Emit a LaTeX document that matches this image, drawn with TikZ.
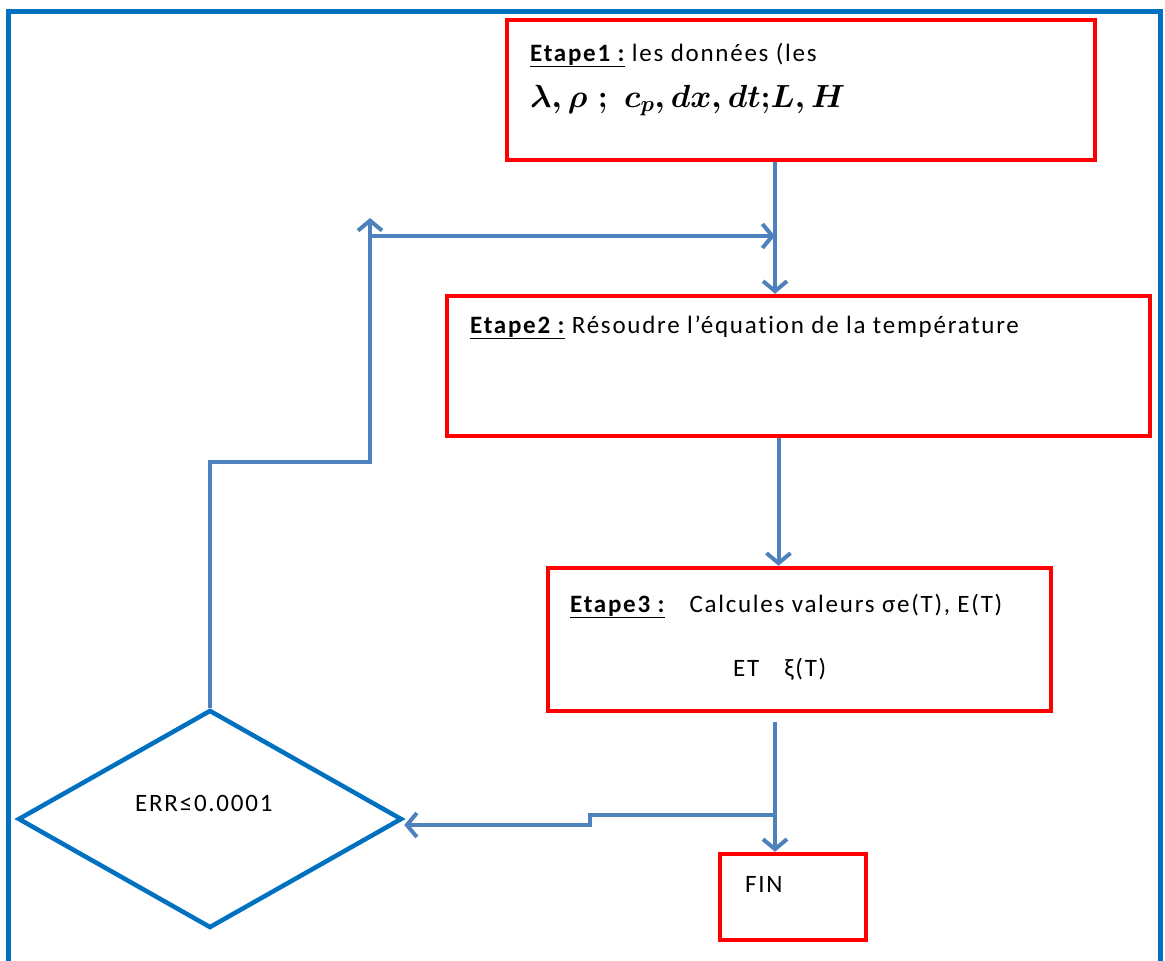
\RequirePackage{fix-cm}
\documentclass[tikz,border=0pt]{standalone}
\usepackage{fontspec}
\setmainfont{Carlito}
\newfontfamily\wordfont{Carlito}[LetterSpace=7, Ligatures=NoCommon]
\usepackage{tikz}
\usetikzlibrary{arrows.meta, positioning, shapes.geometric}
\definecolor{frameblue}{HTML}{0070C0}
\definecolor{arrblue}{HTML}{4F81BD}
\newcommand{\datalist}{$\lambda,\rho\;{;}\;\,c_p,dx,dt{;}L,H$}

\begin{document}
\begin{tikzpicture}[x=1pt, y=-1pt,
  etape/.style={rectangle, draw=red, line width=4.5pt, inner sep=0pt},
  test/.style={diamond, draw=frameblue, line width=4.5pt, inner sep=0pt,
               minimum width=384pt, minimum height=218pt},
  txt/.style={anchor=base west, inner sep=0pt, font=\wordfont\fontsize{25}{30}\selectfont},
  mtxt/.style={anchor=base west, inner sep=0pt, font=\fontsize{32}{38}\selectfont\mathversion{bold}},
  arr/.style={-{Straight Barb[length=10pt, width=24pt]}, line width=4pt, arrblue}
]
\useasboundingbox (0,0) rectangle (1165,961);
%% Outer frame
\draw[frameblue, line width=5pt] (8,970) -- (8,11) -- (1160,11) -- (1160,970);
%% Stage boxes
\node[etape, minimum width=588pt, minimum height=140pt] (e1) at (801,90) {};
\node[etape, minimum width=703pt, minimum height=140pt] (e2) at (798.5,366) {};
\node[etape, minimum width=503pt, minimum height=143pt] (e3) at (799.5,639.5) {};
\node[etape, minimum width=146pt, minimum height=86pt] (fin) at (793,897) {};
\node[test] (err) at (210,819) {};
%% Texts
\node[txt] (t1) at (530,61) {\textbf{\underline{Etape1 :}} les données (les};
\node[mtxt] (m1) at (530,107) {\datalist};
\node[txt] (t2) at (470,333) {\textbf{\underline{Etape2 :}} Résoudre l’équation de la température};
\node[txt] (t3) at (570,612) {\textbf{\underline{Etape3 :}}\quad Calcules valeurs σe(T), E(T)};
\node[txt] (t4) at (733,676) {ET\quad ξ(T)};
\node[txt] (t5) at (135,811) {ERR≤0.0001};
\node[txt] (t6) at (745,892) {FIN};
%% Junctions
\coordinate (j1) at (775,236);
\coordinate (k1) at (370,462);
\coordinate (k2) at (370,218);
\coordinate (k3) at (372,236);
\coordinate (j4) at (775,815);
\coordinate (j5) at (590,815);
%% Arrows
\draw[arr] (j1 |- e1.south) -- (j1 |- e2.north);
\draw[arr] (err.north) |- (k1) -- (k2);
\draw[arr] (k3) -- (j1);
\draw[arr] ([xshift=-20pt]e2.south) -- ([xshift=-21pt]e3.north);
\draw[arr] ([xshift=-18pt,yshift=-9pt]e3.south -| fin.north) -- ([xshift=-18pt]fin.north);
\draw[arr] (j4) -- (j5) -- ++(0,10) -- ([yshift=-6pt]err.east);
\end{tikzpicture}
\end{document}
